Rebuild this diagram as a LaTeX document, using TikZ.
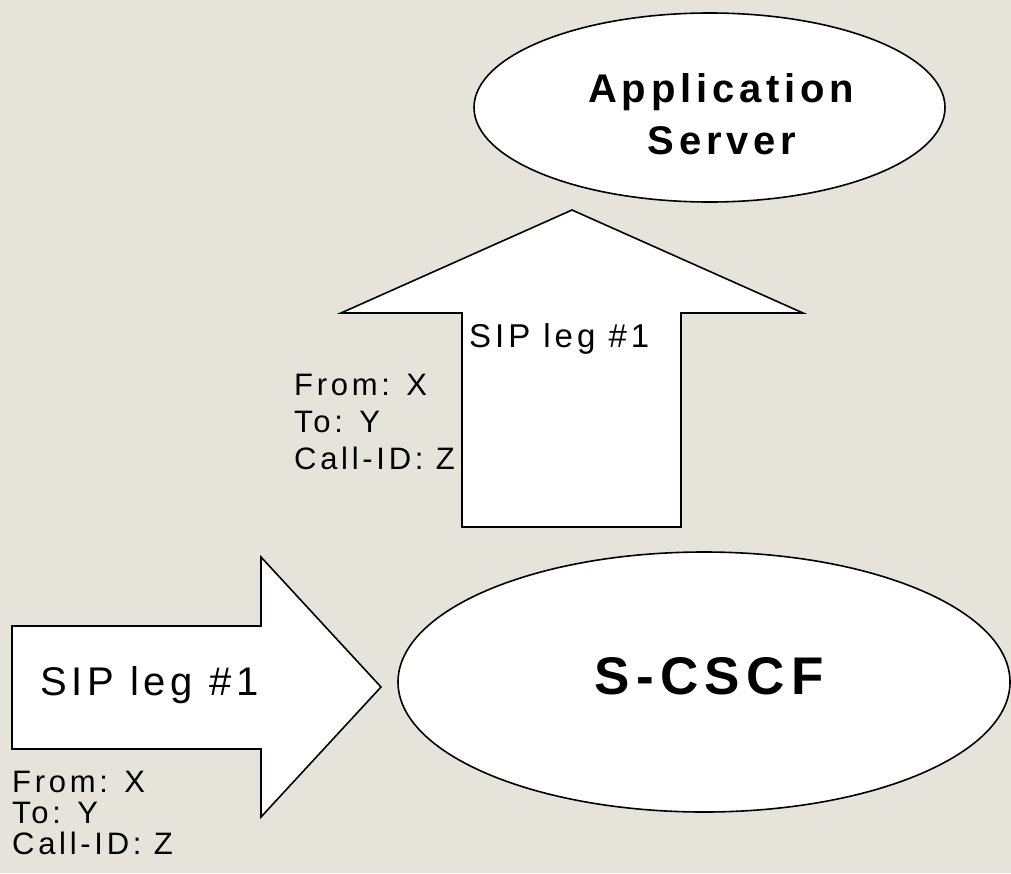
\documentclass[tikz,border=0pt]{standalone}
\usepackage{fontspec}
\setmainfont{Liberation Sans}[LetterSpace=12]
\usetikzlibrary{shapes.geometric}
\definecolor{bg}{RGB}{230,228,218}
\begin{document}
\begin{tikzpicture}[x=1pt,y=-1pt,
  blockarrow/.style={draw=black, fill=white, line width=1.6pt, line join=miter},
  oval/.style={ellipse, draw=black, fill=white, line width=1.6pt, inner sep=0pt},
  boldlabel/.style={inner sep=0pt, anchor=base, font=\bfseries\fontsize{40}{52}\selectfont},
  leglabel/.style={inner sep=0pt, anchor=base west},
  hdrlabel/.style={inner sep=0pt, anchor=north west, align=left, font=\fontsize{31}{37}\selectfont}]
\fill[bg] (0,0) rectangle (1011,873);
\useasboundingbox (0,0) rectangle (1011,873);

% Application Server
\node[oval, minimum width=471pt, minimum height=189pt] (as) at (709.5,107.5) {};
\node[boldlabel] (asA) at (721,102) {Application};
\node[boldlabel] (asB) at (722,154) {Server};

% upward block arrow
\draw[blockarrow] (462,527) -- (462,313) -- (341,313) -- (572,210) -- (803,313) -- (681,313) -- (681,527) -- cycle;
\node[leglabel, font=\fontsize{33}{40}\selectfont] (legup) at (469,347) {SIP leg \#1};
\node[hdrlabel] (hdrup) at (294,374) {From: X\\To: Y\\Call-ID: Z};

% rightward block arrow
\draw[blockarrow] (12,626) -- (261,626) -- (261,557) -- (381,687) -- (261,817) -- (261,749) -- (12,749) -- cycle;
\node[leglabel, font=\fontsize{40}{48}\selectfont] (legright) at (40,695) {SIP leg \#1};
\node[hdrlabel, font=\fontsize{31}{31}\selectfont] (hdrright) at (12,771) {From: X\\To: Y\\Call-ID: Z};

% S-CSCF
\node[oval, minimum width=612pt, minimum height=260pt] (scscf) at (704,682) {};
\node[inner sep=0pt, anchor=base, font=\bfseries\fontsize{53}{60}\selectfont] (scscfL) at (709,694) {S-CSCF};
\end{tikzpicture}
\end{document}
